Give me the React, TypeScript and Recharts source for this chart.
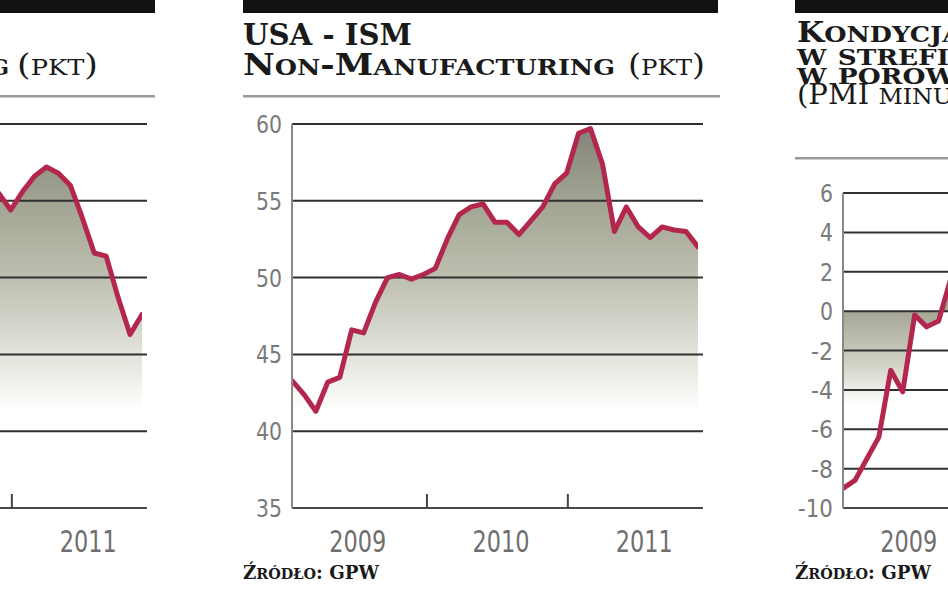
import { Area, ComposedChart, Line, ReferenceLine, XAxis, YAxis } from "recharts";

// month index 0 = Jan 2009
const YEARS = ["2009", "2010", "2011"];
const YEAR_CENTERS = [5.5, 17.5, 29.5];
const YEAR_BOUNDS = [11.3, 23.1];

// USA - ISM Non-Manufacturing, Jan 2009 - Nov 2011
const ISM_NON_MFG = [
  43.3, 42.4, 41.3, 43.2, 43.5, 46.6, 46.4, 48.4, 50.0, 50.2, 49.9, 50.2,
  50.6, 52.5, 54.1, 54.6, 54.8, 53.6, 53.6, 52.8, 53.7, 54.6, 56.1, 56.8,
  59.4, 59.7, 57.4, 53.0, 54.6, 53.3, 52.6, 53.3, 53.1, 53.0, 52.0,
];

// left panel (ISM Manufacturing), only the tail is in view: Nov 2010 - Nov 2011
const MFG_FIRST_MONTH = 22;
const ISM_MFG_TAIL = [60.5, 59.4, 60.6, 61.6, 62.2, 61.8, 61.0, 58.9, 56.6, 56.4, 53.7, 51.3, 52.6];

// right panel (PMI minus ISM), only the start is in view: Jan - Oct 2009
const PMI_GAP_HEAD = [-9.0, -8.6, -7.5, -6.4, -3.0, -4.1, -0.2, -0.8, -0.5, 1.6];

const MID_TICKS = [35, 40, 45, 50, 55, 60];
const LEFT_TICKS = [40, 45, 50, 55, 60, 65];
const RIGHT_TICKS = [-10, -8, -6, -4, -2, 0, 2, 4, 6];

const midData = ISM_NON_MFG.map((v, i) => ({ m: i, v }));
const leftData = ISM_MFG_TAIL.map((v, i) => ({ m: MFG_FIRST_MONTH + i, v }));
const rightData = PMI_GAP_HEAD.map((v, i) => ({ m: i, v }));

const ALL_X_TICKS = [...YEAR_CENTERS, ...YEAR_BOUNDS].sort((a, b) => a - b);
// only the ticks that fall inside the page for the cut-off panels
const LEFT_X_TICKS = [YEAR_BOUNDS[1], YEAR_CENTERS[2]];
const RIGHT_X_TICKS = [YEAR_CENTERS[0], YEAR_BOUNDS[0]];

const NUM_FONT = '"DejaVu Sans", sans-serif';
const SERIF = '"DejaVu Serif", serif';
const CHART_TOP = 110;
const INK = "#1a1a1a";

const FILL_MAIN: [string, string][] = [
  ["0", "#83857a"],
  ["0.3", "#a6a897"],
  ["0.55", "#c0c1b2"],
  ["0.72", "#d7d8ce"],
  ["0.87", "#ecece6"],
  ["1", "#ffffff"],
];
const FILL_GAP: [string, string][] = [
  ["0", "#a6a797"],
  ["0.4", "#c4c5b7"],
  ["0.75", "#e4e4dc"],
  ["1", "#ffffff"],
];

function YearTick({ x, y, payload }: any) {
  const idx = YEAR_CENTERS.indexOf(payload.value);
  if (idx >= 0) {
    return (
      <text
        x={x}
        y={y + 44}
        textAnchor="middle"
        fill="#6f6f6f"
        fontSize={30}
        fontFamily={NUM_FONT}
        textLength={57}
        lengthAdjust="spacingAndGlyphs"
      >
        {YEARS[idx]}
      </text>
    );
  }
  return <line x1={x} x2={x} y1={y - 14} y2={y} stroke="#444" strokeWidth={2} />;
}

function NumTick({ x, y, payload }: any) {
  const s = String(payload.value);
  const len = [...s].reduce((w, ch) => w + (ch === "-" ? 9 : 13), 0);
  return (
    <text
      x={x}
      y={y}
      dy="0.36em"
      textAnchor="end"
      fill="#7a7a7a"
      fontSize={25}
      fontFamily={NUM_FONT}
      textLength={len}
      lengthAdjust="spacingAndGlyphs"
    >
      {s}
    </text>
  );
}

function PanelChart({
  data,
  domain,
  ticks,
  xTicks,
  showYLabels = true,
  plotTop,
  id,
  stops,
  fadeFrom,
  fadeTo,
  baseValue,
}: {
  data: { m: number; v: number }[];
  domain: [number, number];
  ticks: number[];
  xTicks: number[];
  showYLabels?: boolean;
  plotTop: number;
  id: string;
  stops: [string, string][];
  fadeFrom: number;
  fadeTo: number;
  baseValue: number;
}) {
  return (
    <ComposedChart
      width={490}
      height={450}
      data={data}
      margin={{ top: plotTop - CHART_TOP, right: 17, bottom: 12, left: 0 }}
    >
      <defs>
        <linearGradient
          id={id}
          gradientUnits="userSpaceOnUse"
          x1={0}
          x2={0}
          y1={fadeFrom - CHART_TOP}
          y2={fadeTo - CHART_TOP}
        >
          {stops.map(([o, c]) => (
            <stop key={o} offset={o} stopColor={c} />
          ))}
        </linearGradient>
      </defs>
      <XAxis
        type="number"
        dataKey="m"
        domain={[0, 34]}
        ticks={xTicks}
        interval={0}
        tick={<YearTick />}
        tickLine={false}
        tickSize={0}
        tickMargin={0}
        height={40}
        padding={{ left: 0, right: 5 }}
        axisLine={{ stroke: "#4a4a4a", strokeWidth: 2 }}
        allowDataOverflow
      />
      <YAxis
        type="number"
        domain={domain}
        ticks={ticks}
        interval={0}
        width={62}
        tickLine={false}
        tickSize={0}
        tickMargin={10}
        axisLine={{ stroke: "#8a8a8a", strokeWidth: 2 }}
        tick={showYLabels ? <NumTick /> : false}
        allowDataOverflow
      />
      <Area
        dataKey="v"
        baseValue={baseValue}
        fill={`url(#${id})`}
        fillOpacity={1}
        stroke="none"
        isAnimationActive={false}
      />
      {ticks.slice(1).map((t) => (
        <ReferenceLine key={t} y={t} stroke="#303030" strokeWidth={2} />
      ))}
      <Line
        dataKey="v"
        stroke="#b3264d"
        strokeWidth={5}
        strokeLinejoin="round"
        strokeLinecap="round"
        dot={false}
        activeDot={false}
        isAnimationActive={false}
      />
    </ComposedChart>
  );
}

// small caps drawn by hand: capitals and signs at `big`, lower case as capitals at `small`
function Caps({
  text,
  x,
  y,
  big,
  small,
  bold = true,
  width,
  anchor = "start",
}: {
  text: string;
  x: number;
  y: number;
  big: number;
  small: number;
  bold?: boolean;
  width?: number;
  anchor?: "start" | "end";
}) {
  const parts: { s: string; up: boolean }[] = [];
  for (const ch of text) {
    const up = ch === ch.toUpperCase();
    const last = parts[parts.length - 1];
    if (last && last.up === up) last.s += ch;
    else parts.push({ s: ch, up });
  }
  return (
    <text
      x={x}
      y={y}
      fill={INK}
      fontFamily={SERIF}
      fontWeight={bold ? 700 : 400}
      textAnchor={anchor}
      textLength={width}
      lengthAdjust={width ? "spacingAndGlyphs" : undefined}
    >
      {parts.map((p, i) => (
        <tspan key={i} fontSize={p.up ? big : small}>
          {p.up ? p.s : p.s.toUpperCase()}
        </tspan>
      ))}
    </text>
  );
}

export default function App() {
  return (
    <div
      style={{
        position: "absolute",
        left: 0,
        top: 0,
        width: 948,
        height: 593,
        overflow: "hidden",
        background: "#fff",
      }}
    >
      <div style={{ position: "absolute", left: -326, top: CHART_TOP }}>
        <PanelChart
          data={leftData}
          domain={[40, 65]}
          ticks={LEFT_TICKS}
          xTicks={LEFT_X_TICKS}
          showYLabels={false}
          plotTop={124}
          id="fillLeft"
          stops={FILL_MAIN}
          fadeFrom={128}
          fadeTo={410}
          baseValue={40}
        />
      </div>
      <div style={{ position: "absolute", left: 230, top: CHART_TOP }}>
        <PanelChart
          data={midData}
          domain={[35, 60]}
          ticks={MID_TICKS}
          xTicks={ALL_X_TICKS}
          plotTop={124}
          id="fillMid"
          stops={FILL_MAIN}
          fadeFrom={128}
          fadeTo={410}
          baseValue={35}
        />
      </div>
      <div style={{ position: "absolute", left: 781, top: CHART_TOP }}>
        <PanelChart
          data={rightData}
          domain={[-10, 6]}
          ticks={RIGHT_TICKS}
          xTicks={RIGHT_X_TICKS}
          plotTop={193}
          id="fillRight"
          stops={FILL_GAP}
          fadeFrom={312}
          fadeTo={405}
          baseValue={0}
        />
      </div>

      <svg width={948} height={593} style={{ position: "absolute", left: 0, top: 0, pointerEvents: "none" }}>
        {/* left panel, mostly cut off */}
        <rect x={-10} y={0} width={165} height={13} fill="#111" />
        <Caps text="Manufacturing" x={9} y={75} big={30} small={22} anchor="end" />
        <Caps text="(pkt)" x={17} y={75} big={30} small={22} bold={false} width={81} />
        <rect x={0} y={95} width={155} height={2.5} fill="#9a9a9a" />

        {/* middle panel */}
        <rect x={243} y={0} width={475} height={13} fill="#111" />
        <Caps text="USA - ISM" x={243} y={45} big={30} small={22} width={169} />
        <Caps text="Non-Manufacturing" x={243} y={75} big={30} small={22} width={372} />
        <Caps text="(pkt)" x={628} y={75} big={30} small={22} bold={false} width={77} />
        <rect x={243} y={95} width={477} height={2.5} fill="#9a9a9a" />
        <Caps text="Źródło: GPW" x={243} y={579} big={19} small={15} width={136} />

        {/* right panel, cut off at the page edge */}
        <rect x={795} y={0} width={170} height={13} fill="#111" />
        <Caps text="Kondycja" x={797} y={42} big={27} small={22} width={165} />
        <Caps text="w strefie" x={797} y={65} big={27} small={22} width={172} />
        <Caps text="w porównaniu" x={797} y={84} big={27} small={22} width={262} />
        <Caps text="(PMI minus" x={797} y={104} big={27} small={22} bold={false} width={172} />
        <rect x={795} y={157} width={160} height={2.5} fill="#9a9a9a" />
        <Caps text="Źródło: GPW" x={795} y={579} big={19} small={15} width={136} />
      </svg>
    </div>
  );
}
